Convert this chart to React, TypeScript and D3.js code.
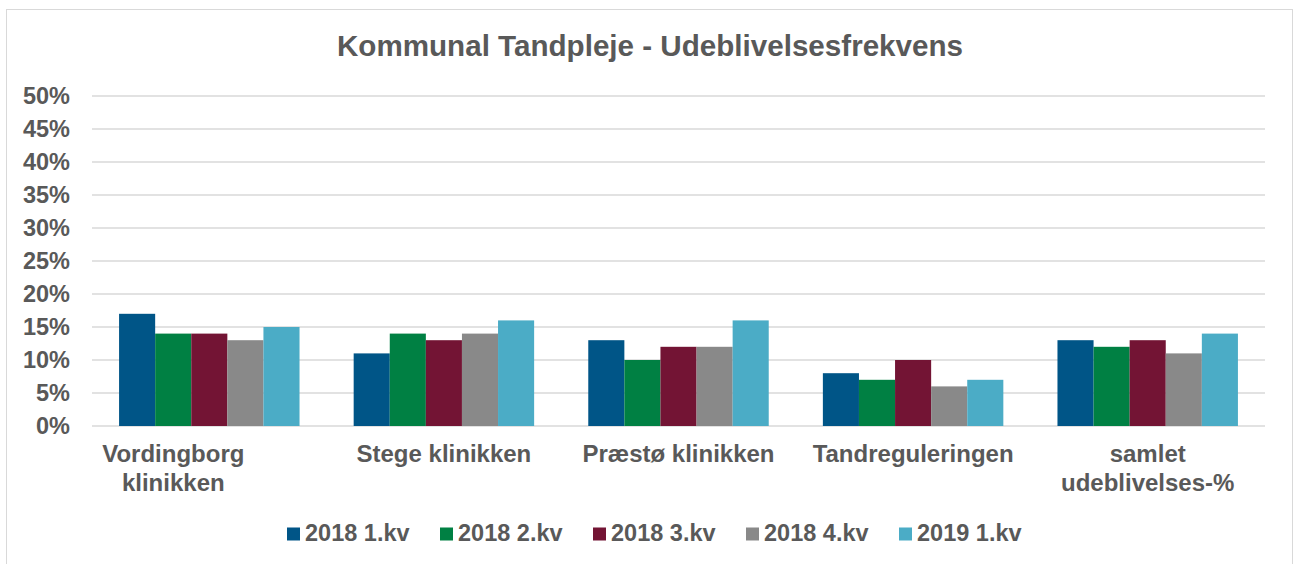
import * as d3 from "d3";

const WIDTH = 1295;
const HEIGHT = 564;
const MARGIN = { top: 96, right: 30, bottom: 138, left: 92 };

const TITLE = "Kommunal Tandpleje - Udeblivelsesfrekvens";

// Categories on the x axis, and their wrapped label lines
const categories = [
  "Vordingborg klinikken",
  "Stege klinikken",
  "Præstø klinikken",
  "Tandreguleringen",
  "samlet udeblivelses-%",
];
const categoryLines = [
  ["Vordingborg", "klinikken"],
  ["Stege klinikken"],
  ["Præstø klinikken"],
  ["Tandreguleringen"],
  ["samlet", "udeblivelses-%"],
];

// Series (quarters) and their values per category (in %)
const series = ["2018 1.kv", "2018 2.kv", "2018 3.kv", "2018 4.kv", "2019 1.kv"];
const q1_2018 = [17, 11, 13, 8, 13];
const q2_2018 = [14, 14, 10, 7, 12];
const q3_2018 = [14, 13, 12, 10, 13];
const q4_2018 = [13, 14, 12, 6, 11];
const q1_2019 = [15, 16, 16, 7, 14];
const values = [q1_2018, q2_2018, q3_2018, q4_2018, q1_2019];

const yTicks = [0, 5, 10, 15, 20, 25, 30, 35, 40, 45, 50];

const COLORS = ["#005587", "#008043", "#731434", "#898989", "#4bacc6"];
const TEXT = "#595959";
const GRID = "#d9d9d9";
const FONT = "'Liberation Sans', Arial, sans-serif";

export default function App() {
  const x0 = d3
    .scaleBand<string>()
    .domain(categories)
    .range([MARGIN.left, WIDTH - MARGIN.right]);
  const x1 = d3
    .scaleBand<string>()
    .domain(series)
    .range([0, x0.bandwidth()])
    .paddingOuter(0.75);
  const y = d3
    .scaleLinear()
    .domain([0, 50])
    .range([HEIGHT - MARGIN.bottom, MARGIN.top]);

  // legend layout
  const legendStep = 153;
  const legendX = 287;

  return (
    <svg
      width={WIDTH}
      height={HEIGHT}
      style={{ position: "absolute", left: 0, top: 0, background: "#fff" }}
      fontFamily={FONT}
      fontWeight="bold"
    >
      <rect x={6.5} y={9.5} width={1286} height={600} fill="#fff" stroke={GRID} />

      <text x={650} y={56} textAnchor="middle" fontSize={29.6} fill={TEXT}>
        {TITLE}
      </text>

      {/* gridlines + y tick labels */}
      {yTicks.map((t) => (
        <g key={t}>
          <line
            x1={MARGIN.left}
            x2={WIDTH - MARGIN.right}
            y1={y(t)}
            y2={y(t)}
            stroke={GRID}
            strokeWidth={1.3}
          />
          <text
            x={70}
            y={y(t)}
            dy="0.35em"
            textAnchor="end"
            fontSize={23.5}
            fill={TEXT}
          >
            {t}%
          </text>
        </g>
      ))}

      {/* bars */}
      {categories.map((c, ci) => (
        <g key={c} transform={`translate(${x0(c)},0)`}>
          {series.map((s, si) => (
            <rect
              key={s}
              x={x1(s)}
              y={y(values[si][ci])}
              width={x1.bandwidth()}
              height={y(0) - y(values[si][ci])}
              fill={COLORS[si]}
            />
          ))}
        </g>
      ))}

      {/* category labels (first one sits left of its band centre, as in the source) */}
      {categories.map((c, ci) => {
        const cx = (x0(c) as number) + x0.bandwidth() / 2 + (ci === 0 ? -36 : 0);
        return (
          <text key={c} textAnchor="middle" fontSize={24} fill={TEXT}>
            {categoryLines[ci].map((line, li) => (
              <tspan key={li} x={cx} y={462 + li * 28.5}>
                {line}
              </tspan>
            ))}
          </text>
        );
      })}

      {/* legend */}
      {series.map((s, si) => (
        <g key={s} transform={`translate(${legendX + si * legendStep},0)`}>
          <rect x={0} y={527.5} width={13} height={13} fill={COLORS[si]} />
          <text x={18} y={541} fontSize={23.5} fill={TEXT}>
            {s}
          </text>
        </g>
      ))}
    </svg>
  );
}
